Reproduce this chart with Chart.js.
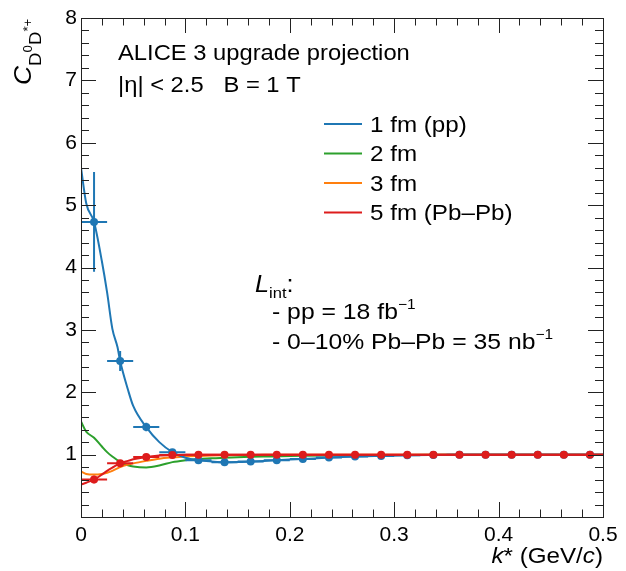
<!DOCTYPE html>
<html>
<head>
<meta charset="utf-8">
<script src="https://cdn.jsdelivr.net/npm/chart.js@4.4.1/dist/chart.umd.min.js"></script>
<style>
    html, body { margin: 0; padding: 0; background: #fff; }
</style>
</head>
<body>
<canvas id="chart" width="626" height="571"></canvas>
<script>
// Theory curves (fine k* grid)
const curveK = [0, 0.005, 0.0125, 0.02, 0.025, 0.03, 0.035, 0.0375, 0.045, 0.05, 0.0625, 0.075, 0.0875, 0.1, 0.1125, 0.125, 0.1375, 0.15, 0.1625, 0.175, 0.1875, 0.2, 0.2125, 0.2375, 0.2625, 0.2875, 0.3125, 0.3375, 0.3625, 0.3875, 0.4125, 0.4375, 0.4625, 0.4875, 0.5];
const curve1fm = [5.60, 5.03, 4.73, 4.10, 3.60, 3.02, 2.72, 2.50, 2.04, 1.78, 1.44, 1.20, 1.04, 0.95, 0.91, 0.89, 0.877, 0.88, 0.888, 0.897, 0.909, 0.92, 0.93, 0.952, 0.968, 0.979, 0.989, 0.994, 0.997, 0.999, 1, 1, 1, 1, 1];
const curve2fm = [1.53, 1.37, 1.27, 1.13, 1.04, 0.97, 0.91, 0.88, 0.83, 0.81, 0.795, 0.825, 0.88, 0.91, 0.93, 0.94, 0.95, 0.958, 0.964, 0.969, 0.973, 0.977, 0.98, 0.985, 0.989, 0.992, 0.995, 0.997, 0.998, 0.999, 1, 1, 1, 1, 1];
const curve3fm = [0.73, 0.69, 0.68, 0.69, 0.71, 0.74, 0.78, 0.80, 0.84, 0.86, 0.90, 0.935, 0.955, 0.97, 0.978, 0.985, 0.989, 0.992, 0.994, 0.996, 0.997, 0.998, 0.999, 1, 1, 1, 1, 1, 1, 1, 1, 1, 1, 1, 1];
const curve5fm = [0.52, 0.55, 0.60, 0.68, 0.74, 0.79, 0.84, 0.86, 0.90, 0.925, 0.963, 0.985, 0.995, 0.999, 1, 1, 1, 1, 1, 1, 1, 1, 1, 1, 1, 1, 1, 1, 1, 1, 1, 1, 1, 1, 1];

// Projected points (bin centres)
const binK = [0.0125, 0.0375, 0.0625, 0.0875, 0.1125, 0.1375, 0.1625, 0.1875, 0.2125, 0.2375, 0.2625, 0.2875, 0.3125, 0.3375, 0.3625, 0.3875, 0.4125, 0.4375, 0.4625, 0.4875];
const kErr = 0.0125;
const ppC = [4.73, 2.50, 1.443, 1.037, 0.909, 0.877, 0.888, 0.909, 0.93, 0.952, 0.968, 0.979, 0.989, 0.994, 0.997, 0.999, 1, 1, 1, 1];
const ppErr = [0.80, 0.16, 0.07, 0.035, 0.02, 0.015, 0.012, 0.01, 0.01, 0.008, 0.008, 0.007, 0.007, 0.006, 0.006, 0.006, 0.005, 0.005, 0.005, 0.005];
const pbC = [0.60, 0.86, 0.963, 0.995, 1, 1, 1, 1, 1, 1, 1, 1, 1, 1, 1, 1, 1, 1, 1, 1];
const pbErr = [0.06, 0.03, 0.015, 0.01, 0.008, 0.006, 0.005, 0.005, 0.004, 0.004, 0.004, 0.004, 0.003, 0.003, 0.003, 0.003, 0.003, 0.003, 0.003, 0.003];

const legendLabels = ['1 fm (pp)', '2 fm', '3 fm', '5 fm (Pb\u2013Pb)'];
const colors = ['#1f77b4', '#2ca02c', '#ff7f0e', '#dd1c1c'];

const FONT = '"Liberation Sans", Arial, Helvetica, sans-serif';
const STRETCH = 1.1;

function toXY(xs, ys) {
    return xs.map((x, i) => ({ x: x, y: ys[i] }));
}

function fontOf(p) {
    return (p.italic ? 'italic ' : '') + p.size + 'px ' + FONT;
}

// draws a list of text pieces (sub/superscripts via dy), slightly widened like the ROOT font
function drawRich(ctx, parts, x, y, align) {
    ctx.save();
    ctx.translate(x, y);
    ctx.scale(STRETCH, 1);
    ctx.fillStyle = '#000';
    ctx.textBaseline = 'alphabetic';
    ctx.textAlign = 'left';
    let w = 0;
    parts.forEach(p => { ctx.font = fontOf(p); w += ctx.measureText(p.t).width; });
    let cx = align === 'right' ? -w : 0;
    parts.forEach(p => {
        ctx.font = fontOf(p);
        ctx.fillText(p.t, cx, p.dy || 0);
        cx += ctx.measureText(p.t).width;
    });
    ctx.restore();
}

const errorBars = {
    id: 'errorBars',
    afterDatasetDraw(chart, args) {
        const ds = chart.data.datasets[args.index];
        if (!ds.errY) return;
        const { ctx, scales: { x, y } } = chart;
        ctx.save();
        ctx.strokeStyle = ds.borderColor;
        ctx.lineWidth = 2;
        ctx.beginPath();
        ds.data.forEach((pt, i) => {
            const px = x.getPixelForValue(pt.x);
            const py = y.getPixelForValue(pt.y);
            ctx.moveTo(x.getPixelForValue(pt.x - kErr), py);
            ctx.lineTo(x.getPixelForValue(pt.x + kErr), py);
            ctx.moveTo(px, y.getPixelForValue(pt.y - ds.errY[i]));
            ctx.lineTo(px, y.getPixelForValue(pt.y + ds.errY[i]));
        });
        ctx.stroke();
        ctx.restore();
    }
};

const frameAndText = {
    id: 'frameAndText',
    afterDraw(chart) {
        const { ctx, chartArea: a, scales: { x, y } } = chart;
        ctx.save();
        ctx.strokeStyle = '#222';
        ctx.lineWidth = 1;
        ctx.beginPath();
        // x ticks (inside, bottom and top)
        for (let i = 0; i <= 25; i++) {
            const px = Math.round(x.getPixelForValue(i * 0.02)) + 0.5;
            const len = i % 5 === 0 ? 15 : 7.5;
            ctx.moveTo(px, a.bottom); ctx.lineTo(px, a.bottom - len);
            ctx.moveTo(px, a.top); ctx.lineTo(px, a.top + len);
        }
        // y ticks (inside, left and right)
        for (let i = 0; i <= 40; i++) {
            const py = Math.round(y.getPixelForValue(i * 0.2)) + 0.5;
            const len = i % 5 === 0 ? 15 : 8;
            ctx.moveTo(a.left, py); ctx.lineTo(a.left + len, py);
            ctx.moveTo(a.right, py); ctx.lineTo(a.right - len, py);
        }
        ctx.stroke();
        ctx.strokeRect(Math.round(a.left) + 0.5, Math.round(a.top) + 0.5, Math.round(a.right - a.left), Math.round(a.bottom - a.top));
        ctx.restore();

        // axis titles
        drawRich(ctx, [
            { t: 'k', size: 22, italic: true },
            { t: '* (GeV/', size: 22 },
            { t: 'c', size: 22, italic: true },
            { t: ')', size: 22 }
        ], a.right, 563, 'right');

        ctx.save();
        ctx.translate(31, 85);
        ctx.rotate(-Math.PI / 2);
        drawRich(ctx, [
            { t: 'C', size: 24, italic: true },
            { t: 'D', size: 17, dy: 10 },
            { t: '0', size: 12, dy: 1 },
            { t: 'D', size: 17, dy: 10 },
            { t: '*+', size: 12, dy: 1 }
        ], 0, 0);
        ctx.restore();

        // labels
        drawRich(ctx, [{ t: 'ALICE 3 upgrade projection', size: 21.6 }], 118, 60);
        drawRich(ctx, [{ t: '|\u03b7| < 2.5   B = 1 T', size: 21.6 }], 118, 92);

        drawRich(ctx, [
            { t: 'L', size: 23, italic: true },
            { t: 'int', size: 15, dy: 6 },
            { t: ':', size: 23 }
        ], 255, 292);
        drawRich(ctx, [
            { t: '- pp = 18 fb', size: 22.5 },
            { t: '\u22121', size: 14, dy: -10 }
        ], 272, 319);
        drawRich(ctx, [
            { t: '- 0\u201310% Pb\u2013Pb = 35 nb', size: 22.5 },
            { t: '\u22121', size: 14, dy: -10 }
        ], 272, 349);

        // legend
        const rowY = [124, 153.5, 183, 212.5];
        legendLabels.forEach((lab, i) => {
            ctx.save();
            ctx.strokeStyle = colors[i];
            ctx.lineWidth = 2;
            ctx.beginPath();
            ctx.moveTo(324, rowY[i]);
            ctx.lineTo(362, rowY[i]);
            ctx.stroke();
            ctx.restore();
            drawRich(ctx, [{ t: lab, size: 22 }], 370, rowY[i] + 7.5);
        });
    }
};

function curveSet(label, values, color, order) {
    return {
        label: label,
        data: toXY(curveK, values),
        borderColor: color,
        backgroundColor: color,
        borderWidth: 2,
        pointRadius: 0,
        showLine: true,
        cubicInterpolationMode: 'monotone',
        order: order
    };
}

function pointSet(label, values, errs, color, order) {
    return {
        label: label,
        data: toXY(binK, values),
        errY: errs,
        borderColor: color,
        backgroundColor: color,
        pointRadius: 4,
        pointBorderWidth: 0,
        pointBackgroundColor: color,
        showLine: false,
        order: order
    };
}

new Chart(document.getElementById('chart').getContext('2d'), {
    type: 'scatter',
    data: {
        datasets: [
            pointSet('5 fm points', pbC, pbErr, colors[3], 0),
            curveSet(legendLabels[3], curve5fm, colors[3], 1),
            pointSet('1 fm points', ppC, ppErr, colors[0], 2),
            curveSet(legendLabels[0], curve1fm, colors[0], 3),
            curveSet(legendLabels[2], curve3fm, colors[2], 4),
            curveSet(legendLabels[1], curve2fm, colors[1], 5)
        ]
    },
    options: {
        responsive: false,
        animation: false,
        layout: { padding: { top: 18, right: 23, left: 0, bottom: 0 } },
        plugins: {
            legend: { display: false },
            tooltip: { enabled: false }
        },
        scales: {
            x: {
                type: 'linear',
                min: 0,
                max: 0.5,
                grid: { display: false, drawTicks: false },
                border: { display: false },
                ticks: {
                    stepSize: 0.1,
                    padding: 6,
                    color: '#000',
                    font: { family: FONT, size: 21 },
                    maxRotation: 0,
                    callback: v => v === 0 ? '0' : v.toFixed(1)
                },
                afterFit: s => { s.height = 54; }
            },
            y: {
                min: 0,
                max: 8,
                grid: { display: false, drawTicks: false },
                border: { display: false },
                ticks: {
                    stepSize: 1,
                    padding: 4,
                    color: '#000',
                    font: { family: FONT, size: 21 },
                    callback: v => v === 0 ? '' : String(v)
                },
                afterFit: s => { s.width = 81; }
            }
        }
    },
    plugins: [errorBars, frameAndText]
});
</script>
</body>
</html>
